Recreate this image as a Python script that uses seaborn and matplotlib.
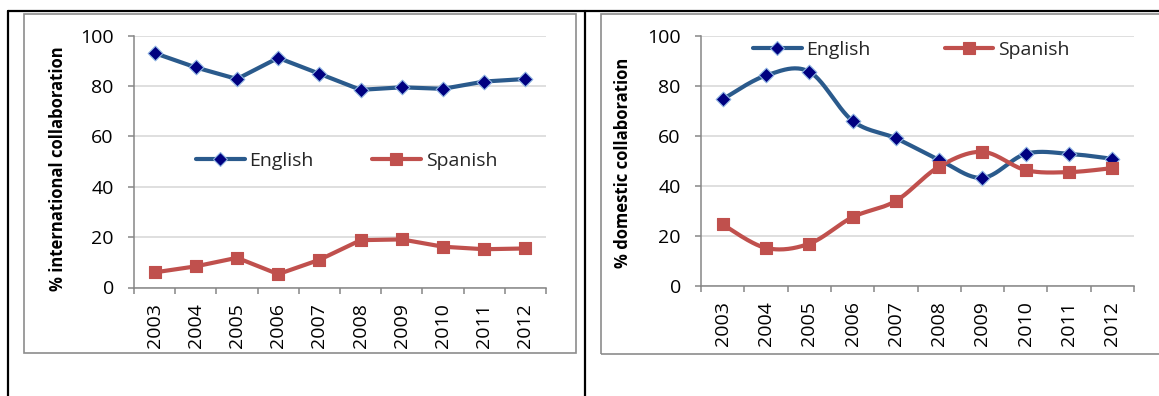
import numpy as np
import pandas as pd
import seaborn as sns
import matplotlib
matplotlib.use("Agg")
import matplotlib.pyplot as plt
from matplotlib.lines import Line2D
from matplotlib.patches import Rectangle

# ---- data -------------------------------------------------------------
years = ["2003", "2004", "2005", "2006", "2007", "2008", "2009", "2010", "2011", "2012"]
series_names = ["English", "Spanish"]

intl_english = [93.1, 87.4, 82.8, 91.2, 84.9, 78.5, 79.5, 78.9, 81.8, 82.8]
intl_spanish = [6.0, 8.4, 11.8, 5.3, 11.0, 18.8, 19.1, 16.2, 15.2, 15.5]

dom_english = [74.6, 84.1, 85.6, 66.0, 59.0, 50.4, 43.2, 52.8, 52.8, 50.8]
dom_spanish = [24.6, 15.2, 16.9, 27.5, 34.0, 47.7, 53.6, 46.3, 45.5, 47.1]

# ---- styling ----------------------------------------------------------
sns.set_theme(style="white")
plt.rcParams["font.family"] = ["Open Sans", "DejaVu Sans"]

W, H = 1159, 396
ENG_LINE = "#2A5A8C"
ENG_FACE = "#000080"
ENG_EDGE = "#8DB3E2"
SPA_LINE = "#C0504D"
AXIS_GREY = "#868686"
GRID_GREY = "#D9D9D9"
TICK_FS = 14
LEGEND_FS = 14
LABEL_FS = 12


def fx(px):
    return px / W


def fy(py):
    return 1 - py / H


def smooth_curve(x, y, n=40):
    """Bezier smoothing through the points (Catmull-Rom style control points)."""
    pts = np.column_stack([x, y]).astype(float)
    p = np.vstack([pts[0], pts, pts[-1]])
    t = np.linspace(0, 1, n)[:, None]
    out = []
    for i in range(1, len(p) - 2):
        p0, p1, p2, p3 = p[i - 1], p[i], p[i + 1], p[i + 2]
        c1 = p1 + (p2 - p0) / 6
        c2 = p2 - (p3 - p1) / 6
        seg = ((1 - t) ** 3) * p1 + 3 * ((1 - t) ** 2) * t * c1 \
            + 3 * (1 - t) * t ** 2 * c2 + t ** 3 * p2
        out.append(seg if i == 1 else seg[1:])
    out = np.vstack(out)
    return pd.DataFrame({"x": out[:, 0], "y": out[:, 1]})


fig = plt.figure(figsize=(W / 100, H / 100), dpi=100)
fig.patch.set_facecolor("white")

# chart frames (grey) and table rules (black)
fig.add_artist(Rectangle((fx(24), fy(353)), fx(576 - 24), (353 - 14) / H,
                         transform=fig.transFigure, fill=False,
                         edgecolor="#8C8C8C", lw=1.2, zorder=0))
fig.add_artist(Rectangle((fx(601), fy(354)), fx(600), (354 - 14) / H,
                         transform=fig.transFigure, fill=False,
                         edgecolor="#8C8C8C", lw=1.2, zorder=0))
for xs, ys in [((fx(8), 1.0), (fy(11), fy(11))),
               ((fx(8), fx(8)), (0, fy(11))),
               ((fx(585), fx(585)), (0, fy(11)))]:
    fig.add_artist(Line2D(xs, ys, transform=fig.transFigure,
                          color="black", lw=1.6, zorder=1))

ax_left = fig.add_axes([fx(134), fy(287.5), fx(546 - 134), (287.5 - 35.7) / H])
ax_right = fig.add_axes([fx(701), fy(286), fx(1134 - 701), (286 - 35.7) / H])


def draw_panel(ax, eng, spa, ylabel, label_x, label_y, smooth):
    xpos = np.arange(len(years))
    for vals, line_c, marker, face, edge, size in [
        (eng, ENG_LINE, "D", ENG_FACE, ENG_EDGE, 56),
        (spa, SPA_LINE, "s", SPA_LINE, SPA_LINE, 72),
    ]:
        if smooth:
            curve = smooth_curve(xpos, vals)
        else:
            curve = pd.DataFrame({"x": xpos, "y": vals})
        sns.lineplot(data=curve, x="x", y="y", sort=False, estimator=None,
                     color=line_c, lw=3.0, ax=ax, zorder=3)
        pts = pd.DataFrame({"x": xpos, "y": vals})
        sns.scatterplot(data=pts, x="x", y="y", marker=marker, s=size,
                        color=face, edgecolor=edge, linewidth=0.8,
                        ax=ax, zorder=4, legend=False)

    ax.set_xlim(-0.5, len(years) - 0.5)
    ax.set_ylim(0, 100)
    ax.set_yticks(range(0, 101, 20))
    ax.set_xticks(xpos)
    ax.set_xticklabels(years, rotation=90)
    ax.set_xticks(np.arange(-0.5, len(years), 1), minor=True)
    ax.tick_params(axis="x", which="major", length=0, pad=11, labelsize=TICK_FS,
                   labelcolor="black")
    ax.tick_params(axis="x", which="minor", length=4.5, width=1.1,
                   color=AXIS_GREY, direction="out", bottom=True)
    ax.tick_params(axis="y", length=4.5, width=1.1, color=AXIS_GREY,
                   direction="out", left=True, pad=10, labelsize=TICK_FS,
                   labelcolor="black")
    ax.grid(axis="y", color=GRID_GREY, lw=1.2)
    ax.grid(axis="x", visible=False)
    ax.set_axisbelow(True)
    for side in ["top", "right"]:
        ax.spines[side].set_visible(False)
    for side in ["left", "bottom"]:
        ax.spines[side].set_color(AXIS_GREY)
        ax.spines[side].set_linewidth(1.1)
    ax.set_xlabel("")
    ax.set_ylabel(ylabel, fontweight="bold", fontsize=LABEL_FS, color="black")
    ax.yaxis.set_label_coords(label_x, label_y)
    ax.set_facecolor("none")


draw_panel(ax_left, intl_english, intl_spanish,
           "% international collaboration", -0.163, 0.47, smooth=False)
draw_panel(ax_right, dom_english, dom_spanish,
           "% domestic collaboration", -0.159, 0.49, smooth=True)

handles = [
    Line2D([], [], color=ENG_LINE, lw=3.0, marker="D", ms=7.5,
           mfc=ENG_FACE, mec=ENG_EDGE, mew=0.8),
    Line2D([], [], color=SPA_LINE, lw=3.0, marker="s", ms=8.5,
           mfc=SPA_LINE, mec=SPA_LINE, mew=0.8),
]
for cx, cy, gap in [(346.5, 161, 3.0), (911.5, 50, 3.8)]:
    fig.legend(handles, series_names, loc="center",
               bbox_to_anchor=(fx(cx), fy(cy)), ncol=2, frameon=False,
               fontsize=LEGEND_FS, handlelength=2.5, handletextpad=0.25,
               columnspacing=gap, borderpad=0, borderaxespad=0)

fig.savefig("out.png", dpi=100, facecolor="white")
